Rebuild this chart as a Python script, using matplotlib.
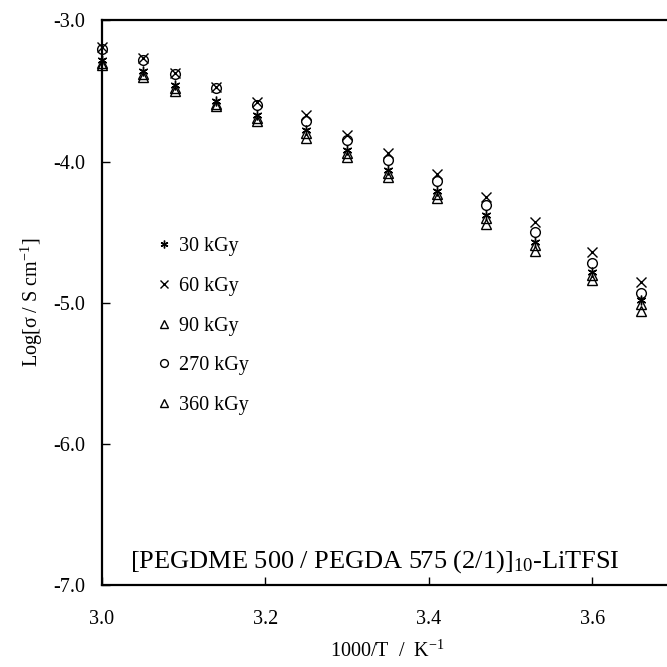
import matplotlib
matplotlib.use("Agg")
import matplotlib.pyplot as plt

plt.rcParams['font.family'] = ['Liberation Serif', 'DejaVu Serif']
plt.rcParams['mathtext.fontset'] = 'custom'
plt.rcParams['mathtext.rm'] = 'Liberation Serif'
plt.rcParams['mathtext.it'] = 'Liberation Serif:italic'

# inverse temperature, 1000/T (K^-1)
inv_T = [3.00, 3.05, 3.09, 3.14, 3.19, 3.25, 3.30, 3.35, 3.41, 3.47, 3.53, 3.60, 3.66]

# log conductivity for each irradiation dose
log_30 = [-3.28, -3.36, -3.46, -3.57, -3.67, -3.78, -3.92, -4.06, -4.21, -4.38, -4.57, -4.78, -4.98]
log_60 = [-3.19, -3.27, -3.37, -3.47, -3.58, -3.67, -3.81, -3.94, -4.09, -4.25, -4.43, -4.64, -4.85]
log_90 = [-3.30, -3.38, -3.48, -3.59, -3.69, -3.80, -3.94, -4.08, -4.23, -4.40, -4.59, -4.80, -5.01]
log_270 = [-3.20, -3.28, -3.38, -3.48, -3.60, -3.71, -3.85, -3.99, -4.14, -4.31, -4.50, -4.72, -4.93]
log_360 = [-3.32, -3.40, -3.50, -3.61, -3.71, -3.83, -3.97, -4.11, -4.26, -4.44, -4.63, -4.84, -5.06]

labels = ['30 kGy', '60 kGy', '90 kGy', '270 kGy', '360 kGy']

fig = plt.figure(figsize=(6.67, 6.67), dpi=100)
ax = fig.add_axes([0.1525, 0.1225, 0.858, 0.8471])

star6 = (6, 2, 0)
series = [
    (log_30, star6),
    (log_60, 'x'),
    (log_90, '^'),
    (log_270, 'o'),
    (log_360, '^'),
]
for (vals, mk), lab in zip(series, labels):
    ax.plot(inv_T, vals, linestyle='none', marker=mk, markersize=7,
            markerfacecolor='none', markeredgecolor='black',
            markeredgewidth=1.0, color='black', label=lab, clip_on=False)

ax.set_xlim(3.0, 3.7)
ax.set_ylim(-7.0, -3.0)
ax.set_xticks([3.0, 3.2, 3.4, 3.6])
ax.set_xticklabels(['3.0', '3.2', '3.4', '3.6'])
ax.set_yticks([-7.0, -6.0, -5.0, -4.0, -3.0])
ax.set_yticklabels(['-7.0', '-6.0', '-5.0', '-4.0', '-3.0'])
ax.tick_params(direction='in', length=6, width=1, labelsize=14.5)
ax.tick_params(axis='x', pad=18)
ax.tick_params(axis='y', pad=12)
for s in ['left', 'bottom', 'top']:
    ax.spines[s].set_linewidth(1.6)
ax.spines['right'].set_visible(False)

ax.set_xlabel('1000/T  /  K$^{\\mathregular{-1}}$', fontsize=14.5, labelpad=8)
ax.set_ylabel('Log[σ / S cm$^{\\mathregular{-1}}$]', fontsize=14.5, labelpad=6)

ax.text(0.478, 0.042, '[PEGDME 500 / PEGDA 575 (2/1)]$_{\\mathregular{10}}$-LiTFSI',
        transform=ax.transAxes, ha='center', va='center', fontsize=19)

leg = ax.legend(loc='upper left', bbox_to_anchor=(0.085, 0.63), frameon=False,
                fontsize=14.5, markerscale=0.8, labelspacing=1.02,
                handlelength=0.6, handletextpad=0.4, borderaxespad=0)

fig.savefig('out.png', dpi=100)
